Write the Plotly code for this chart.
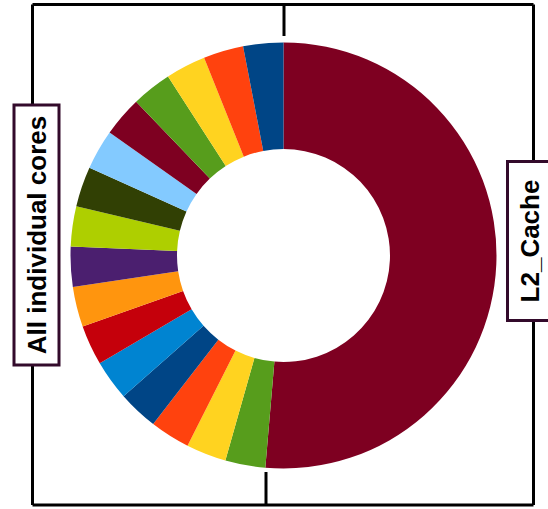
import plotly.graph_objects as go

# Share of the workload per component (percent), listed clockwise from 12 o'clock
labels = ["L2_Cache",
          "Core 15", "Core 14", "Core 13", "Core 12", "Core 11", "Core 10", "Core 9", "Core 8",
          "Core 7", "Core 6", "Core 5", "Core 4", "Core 3", "Core 2", "Core 1", "Core 0"]
values = [51.36,
          3.04, 3.04, 3.04, 3.04, 3.04, 3.04, 3.04, 3.04,
          3.04, 3.04, 3.04, 3.04, 3.04, 3.04, 3.04, 3.04]
colors = ["#7e0021",
          "#579d1c", "#ffd320", "#ff420e", "#004586", "#0084d1", "#c5000b", "#ff950e", "#4b1f6f",
          "#aecf00", "#314004", "#83caff", "#7e0021", "#579d1c", "#ffd320", "#ff420e", "#004586"]

group_labels = ["All individual cores", "L2_Cache"]

W, H = 548, 509


def px(x):
    return x / W


def py(y):
    return 1 - y / H


cx, cy, r = 283.5, 255.5, 213.0

fig = go.Figure(go.Pie(
    labels=labels,
    values=values,
    sort=False,
    direction="clockwise",
    rotation=0,
    hole=0.5,
    textinfo="none",
    marker=dict(colors=colors, line=dict(width=0)),
    domain=dict(x=[px(cx - r), px(cx + r)], y=[py(cy + r), py(cy - r)]),
    showlegend=False,
))

line_style = dict(color="black", width=3)
segments = [
    ((32.5, 4.5), (533.5, 4.5)),     # top bar
    ((284, 4.5), (284, 36)),         # tick to start of the L2 group
    ((32.5, 4.5), (32.5, 505)),      # left side
    ((533.5, 4.5), (533.5, 505)),    # right side
    ((32.5, 505), (533.5, 505)),     # bottom bar
    ((266, 472), (266, 505)),        # tick to start of the cores group
]
for (x0, y0), (x1, y1) in segments:
    fig.add_shape(type="line", xref="paper", yref="paper",
                  x0=px(x0), y0=py(y0), x1=px(x1), y1=py(y1), line=line_style)

box_font = dict(family="Liberation Sans, Arial, sans-serif", size=26, color="black", weight="bold")
fig.add_annotation(
    text=group_labels[0], xref="paper", yref="paper",
    x=px(36), y=py(235.5), xanchor="center", yanchor="middle",
    textangle=-90, showarrow=False, font=box_font,
    bgcolor="white", bordercolor="#330a2b", borderwidth=3, borderpad=0,
    width=257, height=42,
)
fig.add_annotation(
    text=group_labels[1], xref="paper", yref="paper",
    x=px(530), y=py(241), xanchor="center", yanchor="middle",
    textangle=-90, showarrow=False, font=box_font,
    bgcolor="white", bordercolor="#330a2b", borderwidth=3, borderpad=0,
    width=156, height=42,
)

fig.update_layout(
    width=W, height=H, autosize=False,
    margin=dict(l=0, r=0, t=0, b=0),
    paper_bgcolor="white", plot_bgcolor="white",
)

fig.write_html("out.html")
